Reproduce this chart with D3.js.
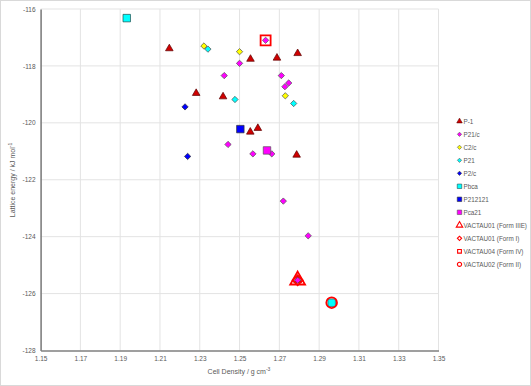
<!DOCTYPE html>
<html>
<head>
<meta charset="utf-8">
<script src="https://cdn.jsdelivr.net/npm/d3@7"></script>
<style>
  body { margin: 0; background: #fff; }
  svg { display: block; font-family: "Liberation Sans", Arial, sans-serif; }
</style>
</head>
<body>
<div class="chart"></div>
<script>
// Data: [cell density, lattice energy]
var p1 = [[1.2147, -117.39], [1.2555, -117.76], [1.2688, -117.72], [1.2792, -117.56],
          [1.2282, -118.96], [1.2417, -119.08], [1.2554, -120.32], [1.2592, -120.19],
          [1.2787, -121.13], [1.2792, -125.53]];
var p21c = [[1.2631, -117.10], [1.2500, -117.91], [1.2423, -118.34], [1.2710, -118.34],
            [1.2747, -118.60], [1.2728, -118.73], [1.2442, -120.76], [1.2567, -121.09],
            [1.2662, -121.09], [1.2720, -122.75], [1.2845, -123.97], [1.2792, -125.53]];
var c2c = [[1.2321, -117.30], [1.2500, -117.50], [1.2730, -119.05]];
var p21 = [[1.2341, -117.41], [1.2477, -119.18], [1.2772, -119.32]];
var p2c = [[1.2226, -119.44], [1.2239, -121.18]];
var pbca = [[1.1933, -116.32], [1.2963, -126.32]];
var p212121 = [[1.2504, -120.22]];
var pca21 = [[1.2638, -120.97]];
var formIIIE = [[1.2792, -125.53]];
var formI = [[1.2792, -125.53]];
var formIV = [[1.2631, -117.10]];
var formII = [[1.2963, -126.32]];

var xTicks = [1.15, 1.17, 1.19, 1.21, 1.23, 1.25, 1.27, 1.29, 1.31, 1.33, 1.35];
var yTicks = [-128, -126, -124, -122, -120, -118, -116];

var series = [
  { name: "P-1", data: p1, shape: "triangle", fill: "#d00000", stroke: "#5a0000", size: 25, lsize: 13 },
  { name: "P21/c", data: p21c, shape: "diamond", fill: "#ff00ff", stroke: "#555", size: 20, lsize: 9 },
  { name: "C2/c", data: c2c, shape: "diamond", fill: "#ffff00", stroke: "#555", size: 20, lsize: 9 },
  { name: "P21", data: p21, shape: "diamond", fill: "#00ffff", stroke: "#555", size: 20, lsize: 9 },
  { name: "P2/c", data: p2c, shape: "diamond", fill: "#0000ff", stroke: "#333", size: 20, lsize: 9 },
  { name: "Pbca", data: pbca, shape: "square", fill: "#00ffff", stroke: "#1f4e4e", size: 56, lsize: 20 },
  { name: "P212121", data: p212121, shape: "square", fill: "#0000ff", stroke: "#333", size: 56, lsize: 20 },
  { name: "Pca21", data: pca21, shape: "square", fill: "#ff00ff", stroke: "#555", size: 56, lsize: 20 },
  { name: "VACTAU01 (Form IIIE)", data: formIIIE, shape: "triangle", fill: "none", stroke: "#ff0000", size: 95, lsize: 18, open: true },
  { name: "VACTAU01 (Form I)", data: formI, shape: "diamond", fill: "none", stroke: "#ff0000", size: 50, lsize: 9, open: true },
  { name: "VACTAU04 (Form IV)", data: formIV, shape: "square", fill: "none", stroke: "#ff0000", size: 100, lsize: 14, open: true },
  { name: "VACTAU02 (Form II)", data: formII, shape: "circle", fill: "none", stroke: "#ff0000", size: 90, lsize: 14, open: true }
];

var w = 531, h = 386;

var x = d3.scaleLinear().domain([1.15, 1.35]).range([40.6, 438.5]);
var y = d3.scaleLinear().domain([-128, -116]).range([350.5, 9]);

var svg = d3.select(".chart").append("svg")
  .attr("width", w)
  .attr("height", h);

// chart border
svg.append("rect")
  .attr("x", 0.5).attr("y", 0.5)
  .attr("width", w - 1).attr("height", h - 1)
  .attr("fill", "#fff").attr("stroke", "#d9d9d9");

// grid
svg.append("g").selectAll("line").data(xTicks.slice(1)).enter().append("line")
  .attr("x1", d => x(d)).attr("x2", d => x(d))
  .attr("y1", y(-116)).attr("y2", y(-128))
  .attr("stroke", "#e3e3e3");
svg.append("g").selectAll("line").data(yTicks.slice(1)).enter().append("line")
  .attr("x1", x(1.15)).attr("x2", x(1.35))
  .attr("y1", d => y(d)).attr("y2", d => y(d))
  .attr("stroke", "#e3e3e3");

// axes
var xAxis = d3.axisBottom(x).tickValues(xTicks).tickFormat(d3.format(".2f")).tickSize(0).tickPadding(6);
var yAxis = d3.axisLeft(y).tickValues(yTicks).tickFormat(d => d3.format("d")(d).replace("−", "-")).tickSize(0).tickPadding(5);

var gx = svg.append("g").attr("transform", "translate(0," + y(-128) + ")").call(xAxis);
var gy = svg.append("g").attr("transform", "translate(" + x(1.15) + ",0)").call(yAxis);
[gx, gy].forEach(function (g) {
  g.select(".domain").attr("stroke", "#7f7f7f").attr("stroke-width", 1.6);
  g.selectAll("text").attr("fill", "#595959").attr("font-size", "6.5px")
    .attr("font-family", "Liberation Sans, Arial, sans-serif");
});

// axis titles
var xt = svg.append("text")
  .attr("x", 239).attr("y", 374)
  .attr("text-anchor", "middle")
  .attr("font-size", "7px").attr("fill", "#595959")
  .text("Cell Density / g cm");
xt.append("tspan").attr("font-size", "5px").attr("dy", -3).text("-3");

var yt = svg.append("text")
  .attr("transform", "translate(15,180) rotate(-90)")
  .attr("text-anchor", "middle")
  .attr("font-size", "7px").attr("fill", "#595959")
  .text("Lattice energy / kJ mol");
yt.append("tspan").attr("font-size", "5px").attr("dy", -3).text("-1");

function symbolPath(s, size) {
  var type = { triangle: d3.symbolTriangle, square: d3.symbolSquare, diamond: d3.symbolSquare, circle: d3.symbolCircle }[s];
  return d3.symbol().type(type).size(size)();
}

// points
series.forEach(function (s) {
  svg.append("g").selectAll("path").data(s.data).enter().append("path")
    .attr("d", symbolPath(s.shape, s.size))
    .attr("transform", function (d) {
      var t = "translate(" + x(d[0]) + "," + y(d[1]) + ")";
      return s.shape === "diamond" ? t + " rotate(45)" : t;
    })
    .attr("fill", s.fill)
    .attr("stroke", s.stroke)
    .attr("stroke-width", s.open ? 1.8 : 0.7);
});

// legend
var legend = svg.append("g");
series.forEach(function (s, i) {
  var ly = 121.3 + i * 13;
  legend.append("path")
    .attr("d", symbolPath(s.shape, s.lsize))
    .attr("transform", "translate(459.5," + ly + ")" + (s.shape === "diamond" ? " rotate(45)" : ""))
    .attr("fill", s.fill)
    .attr("stroke", s.stroke)
    .attr("stroke-width", s.open ? 1.1 : 0.6);
  legend.append("text")
    .attr("x", 463.5).attr("y", ly + 2.3)
    .attr("font-size", "6.3px").attr("fill", "#595959")
    .text(s.name);
});
</script>
</body>
</html>
